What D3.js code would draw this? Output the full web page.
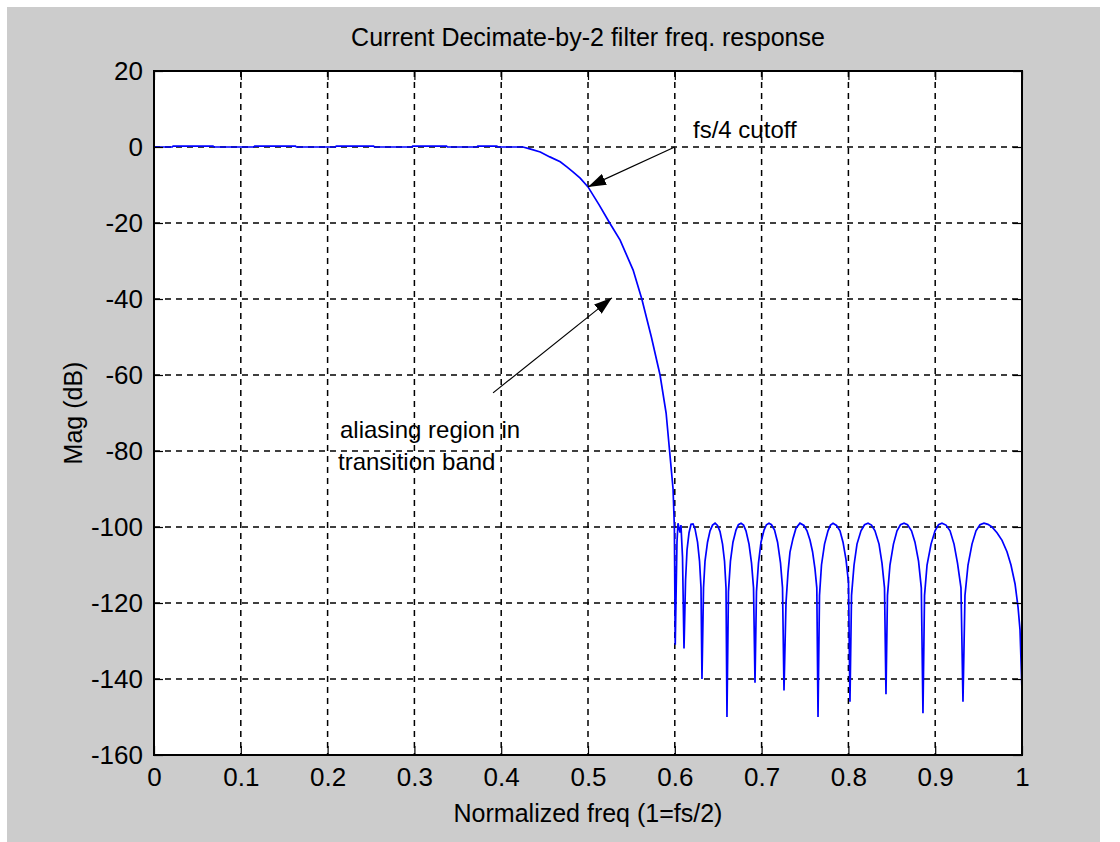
<!DOCTYPE html>
<html>
<head>
<meta charset="utf-8">
<script src="https://cdn.jsdelivr.net/npm/d3@7"></script>
<style>
	body { margin: 0; background: #fff; }
	svg { display: block; }
	text { font-family: "Liberation Sans", Arial, sans-serif; fill: #000; }
</style>
</head>
<body>
<div id="chart"></div>
<script>
// values
const xTicks = [0, 0.1, 0.2, 0.3, 0.4, 0.5, 0.6, 0.7, 0.8, 0.9, 1];
const yTicks = [20, 0, -20, -40, -60, -80, -100, -120, -140, -160];

const passFreq = [0, 0.021, 0.022, 0.068, 0.069, 0.115, 0.116, 0.163, 0.164, 0.209, 0.210, 0.253, 0.254, 0.297, 0.298, 0.337, 0.338, 0.372, 0.373, 0.395, 0.396, 0.425];
const passDb = [0, 0, 0.25, 0.25, 0, 0, 0.25, 0.25, 0, 0, 0.25, 0.25, 0, 0, 0.25, 0.25, 0, 0, 0.25, 0.25, 0, 0];

const transFreq = [0.433, 0.445, 0.456, 0.468, 0.476, 0.483, 0.491, 0.500, 0.513, 0.525, 0.537, 0.552, 0.562, 0.573, 0.583, 0.590, 0.594, 0.598, 0.5995];
const transDb = [-0.5, -1.3, -2.6, -3.9, -5.3, -6.6, -8.2, -10.5, -15.3, -20, -24.5, -32.4, -40, -50, -60, -70, -80, -90, -100];

const stopFreq = [
	0.6005, 0.6025, 0.6037, 0.6060, 0.6071, 0.6089, 0.6106,
	0.6124, 0.6141, 0.6164, 0.6187, 0.6210, 0.6233, 0.6262, 0.6285, 0.6302, 0.6313,
	0.6331, 0.6348, 0.6377, 0.6406, 0.6435, 0.6464, 0.6492, 0.6521, 0.6550, 0.6573, 0.6590, 0.6601,
	0.6618, 0.6641, 0.6670, 0.6705, 0.6733, 0.6763, 0.6792, 0.6820, 0.6855, 0.6884, 0.6907, 0.6924,
	0.6941, 0.6964, 0.6993, 0.7028, 0.7056, 0.7085, 0.7114, 0.7149, 0.7184, 0.7218, 0.7241, 0.7258,
	0.7281, 0.7304, 0.7327, 0.7362, 0.7396, 0.7442, 0.7488, 0.7523, 0.7558, 0.7587, 0.7615, 0.7636, 0.7650,
	0.7667, 0.7690, 0.7725, 0.7765, 0.7794, 0.7823, 0.7863, 0.7903, 0.7938, 0.7972, 0.8001, 0.8018,
	0.8036, 0.8065, 0.8099, 0.8145, 0.8186, 0.8226, 0.8266, 0.8306, 0.8353, 0.8387, 0.8416, 0.8433,
	0.8450, 0.8479, 0.8519, 0.8560, 0.8600, 0.8641, 0.8681, 0.8727, 0.8767, 0.8808, 0.8840, 0.8859,
	0.8877, 0.8906, 0.8952, 0.8998, 0.9038, 0.9078, 0.9124, 0.9171, 0.9217, 0.9257, 0.9297, 0.9320,
	0.9343, 0.9378, 0.9424, 0.9470, 0.9516, 0.9562, 0.9608, 0.9654, 0.9712, 0.9770, 0.9827, 0.9873, 0.9920, 0.9954, 0.9977, 1.0000
];
const stopDb = [
	-131, -104, -99, -101.5, -99.5, -108, -132,
	-114, -106, -101.5, -99.3, -99.2, -100.5, -104, -109, -116, -140,
	-116, -109, -104, -101, -99.5, -99, -99.6, -101.2, -104.5, -109, -116, -150,
	-117, -109, -104, -100.8, -99.4, -99, -99.5, -101, -104.5, -109.5, -116, -141,
	-117, -109.5, -104, -100.8, -99.4, -99, -99.4, -100.8, -104, -109.5, -116, -143,
	-120, -112, -106.6, -103, -100.3, -99, -99.6, -101, -103.5, -106.5, -111, -116, -150,
	-118, -110, -104.5, -101, -99.5, -99, -99.6, -101, -104, -108.5, -114.5, -146,
	-118, -110, -104.5, -101, -99.4, -99, -99.5, -101, -104.5, -109.5, -116, -144,
	-118, -110, -104.5, -101, -99.4, -99, -99.4, -101, -104, -109, -116, -149,
	-118, -110, -104.5, -101, -99.4, -99, -99.5, -101, -104.5, -109.5, -116, -146,
	-118, -110, -104.5, -101, -99.4, -99, -99.3, -100, -101.5, -103.5, -106.5, -110, -115, -121, -127, -143
];

const titleText = 'Current Decimate-by-2 filter freq. response';
const xLabel = 'Normalized freq (1=fs/2)';
const yLabel = 'Mag (dB)';

const W = 1120, H = 842;
const pLeft = 154, pRight = 1022, pTop = 71, pBottom = 755;

const svg = d3.select('#chart').append('svg')
	.attr('width', W)
	.attr('height', H);

// figure background
svg.append('rect').attr('x', 7).attr('y', 7).attr('width', 1093).attr('height', 835).attr('fill', '#cccccc');
svg.append('rect').attr('x', pLeft).attr('y', pTop).attr('width', pRight - pLeft).attr('height', pBottom - pTop).attr('fill', '#fff');

const x = d3.scaleLinear().domain([0, 1]).range([pLeft, pRight]);
const y = d3.scaleLinear().domain([-160, 20]).range([pBottom, pTop]);

// dashed grid
const grid = svg.append('g').attr('stroke', '#000').attr('stroke-width', 1.5).attr('stroke-dasharray', '6,5');
grid.selectAll('line.gx')
	.data(xTicks.slice(1, -1))
	.enter()
	.append('line')
	.attr('class', 'gx')
	.attr('x1', d => x(d)).attr('x2', d => x(d))
	.attr('y1', pTop).attr('y2', pBottom);
grid.selectAll('line.gy')
	.data(yTicks.slice(1, -1))
	.enter()
	.append('line')
	.attr('class', 'gy')
	.attr('x1', pLeft).attr('x2', pRight)
	.attr('y1', d => y(d)).attr('y2', d => y(d));

// the response curve
const pts = [];
passFreq.forEach((f, i) => pts.push([f, passDb[i]]));
transFreq.forEach((f, i) => pts.push([f, transDb[i]]));
stopFreq.forEach((f, i) => pts.push([f, stopDb[i]]));

const line = d3.line().x(d => x(d[0])).y(d => y(d[1]));
svg.append('path')
	.datum(pts)
	.attr('d', line)
	.attr('fill', 'none')
	.attr('stroke', '#0000ff')
	.attr('stroke-width', 1.7)
	.attr('stroke-linejoin', 'miter');

// axes, ticks pointing inwards
const fmt = d => String(d);
svg.append('g')
	.attr('transform', `translate(0,${pBottom})`)
	.call(d3.axisBottom(x).tickValues(xTicks).tickSize(-9).tickPadding(13).tickFormat(fmt));
svg.append('g')
	.attr('transform', `translate(${pLeft},0)`)
	.call(d3.axisLeft(y).tickValues(yTicks).tickSize(-9).tickPadding(11).tickFormat(fmt));
svg.append('g')
	.attr('transform', `translate(0,${pTop})`)
	.call(d3.axisTop(x).tickValues(xTicks).tickSize(-9).tickFormat(''));
svg.append('g')
	.attr('transform', `translate(${pRight},0)`)
	.call(d3.axisRight(y).tickValues(yTicks).tickSize(-9).tickFormat(''));

svg.selectAll('.domain').remove();
svg.selectAll('.tick line').attr('stroke', '#000').attr('stroke-width', 1.2);
svg.selectAll('.tick text').attr('font-size', 26).attr('font-family', '"Liberation Sans", Arial, sans-serif').attr('fill', '#000');

// box
svg.append('rect')
	.attr('x', pLeft).attr('y', pTop)
	.attr('width', pRight - pLeft).attr('height', pBottom - pTop)
	.attr('fill', 'none').attr('stroke', '#000').attr('stroke-width', 2);

// labels
svg.append('text').attr('x', (pLeft + pRight) / 2).attr('y', 46)
	.attr('text-anchor', 'middle').attr('font-size', 25).text(titleText);
svg.append('text').attr('x', (pLeft + pRight) / 2).attr('y', 822)
	.attr('text-anchor', 'middle').attr('font-size', 25).text(xLabel);
svg.append('text')
	.attr('transform', `translate(82,${(pTop + pBottom) / 2}) rotate(-90)`)
	.attr('text-anchor', 'middle').attr('font-size', 25).text(yLabel);

// annotations
const defs = svg.append('defs');
defs.append('marker')
	.attr('id', 'head')
	.attr('markerUnits', 'userSpaceOnUse')
	.attr('viewBox', '0 0 18 12')
	.attr('refX', 18).attr('refY', 6)
	.attr('markerWidth', 18).attr('markerHeight', 12)
	.attr('orient', 'auto')
	.append('path').attr('d', 'M0,0 L18,6 L0,12 Z').attr('fill', '#000');

const arrows = [
	{from: [0.6, 0], to: [0.5, -10.5]},
	{from: [0.3906, -64.7], to: [0.5276, -39.7]}
];
svg.selectAll('line.arrow')
	.data(arrows)
	.enter()
	.append('line')
	.attr('class', 'arrow')
	.attr('x1', d => x(d.from[0])).attr('y1', d => y(d.from[1]))
	.attr('x2', d => x(d.to[0])).attr('y2', d => y(d.to[1]))
	.attr('stroke', '#000').attr('stroke-width', 1.2)
	.attr('marker-end', 'url(#head)');

const notes = [
	{t: 'fs/4 cutoff', f: 0.621, db: 2.4},
	{t: 'aliasing region in', f: 0.2143, db: -76.5},
	{t: 'transition band', f: 0.2120, db: -85}
];
svg.selectAll('text.note')
	.data(notes)
	.enter()
	.append('text')
	.attr('class', 'note')
	.attr('x', d => x(d.f)).attr('y', d => y(d.db))
	.attr('font-size', 24)
	.text(d => d.t);
</script>
</body>
</html>
